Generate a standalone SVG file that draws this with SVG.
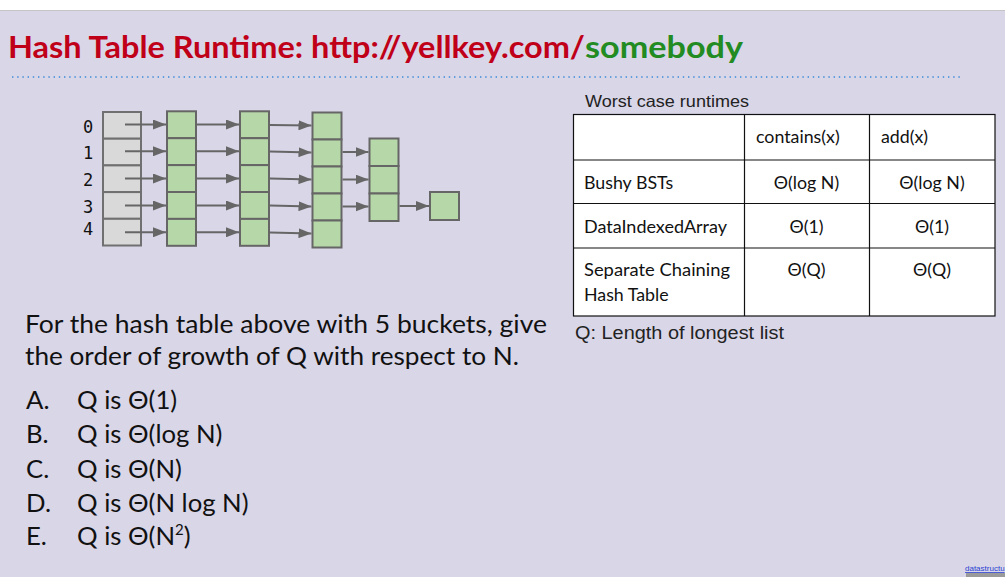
<svg xmlns="http://www.w3.org/2000/svg" width="1005" height="577" viewBox="0 0 1005 577">
<style>
.bk{fill:#d9d9d9;stroke:#707070;stroke-width:2}
.gn{fill:#b6d7a8;stroke:#666;stroke-width:2}
.ar{stroke:#666;stroke-width:2;fill:none;marker-end:url(#ah)}
.idx{font-family:"DejaVu Sans Mono","Liberation Mono",monospace;font-size:17px;fill:#111}
.body{font-family:Lato,"Open Sans","DejaVu Sans",sans-serif;fill:#111}
.cell{font-family:Lato,"Open Sans","DejaVu Sans",sans-serif;font-size:17.8px;fill:#111}
.ttl{font-family:Lato,"Open Sans",sans-serif;font-weight:bold;font-size:31px}
.arial{font-family:"Liberation Sans",Arial,sans-serif;fill:#222}
.tb{stroke:#111;stroke-width:1.2;fill:none}
</style>
<defs>
<marker id="ah" markerUnits="userSpaceOnUse" markerWidth="13" markerHeight="10" refX="13" refY="5" orient="auto">
<path d="M0,0 L13,5 L0,10 z" fill="#666"/>
</marker>
</defs>
<rect x="0" y="0" width="1005" height="577" fill="#d9d6e8"/>
<rect x="0" y="0" width="1005" height="10" fill="#ffffff"/>
<line x1="0" y1="10.5" x2="1005" y2="10.5" stroke="#c4c4c4" stroke-width="1"/>

<g id="title">
<text class="ttl" x="8" y="58" fill="#c00018" textLength="577" lengthAdjust="spacingAndGlyphs">Hash Table Runtime: http://yellkey.com/</text>
<text class="ttl" x="585" y="58" fill="#228b22" textLength="158" lengthAdjust="spacingAndGlyphs">somebody</text>
<line x1="12" y1="77" x2="962" y2="77" stroke="#3b8ad8" stroke-width="1.6" stroke-dasharray="1.4 3.8"/>
</g>

<g id="bucket-labels">
<text class="idx" x="83" y="132.5">0</text>
<text class="idx" x="83" y="159.3">1</text>
<text class="idx" x="83" y="186">2</text>
<text class="idx" x="83" y="212.7">3</text>
<text class="idx" x="83" y="235">4</text>
</g>

<g id="buckets">
<rect class="bk" x="103" y="112" width="38" height="26.7"/>
<rect class="bk" x="103" y="138.7" width="38" height="26.7"/>
<rect class="bk" x="103" y="165.4" width="38" height="26.7"/>
<rect class="bk" x="103" y="192.1" width="38" height="26.7"/>
<rect class="bk" x="103" y="218.8" width="38" height="26.7"/>
</g>

<g id="col1">
<rect class="gn" x="167" y="111.3" width="29" height="26.9"/>
<rect class="gn" x="167" y="138.2" width="29" height="26.9"/>
<rect class="gn" x="167" y="165.1" width="29" height="26.9"/>
<rect class="gn" x="167" y="192" width="29" height="26.9"/>
<rect class="gn" x="167" y="218.9" width="29" height="26.9"/>
</g>

<g id="col2">
<rect class="gn" x="240" y="111.3" width="29" height="26.9"/>
<rect class="gn" x="240" y="138.2" width="29" height="26.9"/>
<rect class="gn" x="240" y="165.1" width="29" height="26.9"/>
<rect class="gn" x="240" y="192" width="29" height="26.9"/>
<rect class="gn" x="240" y="218.9" width="29" height="26.9"/>
</g>

<g id="col3">
<rect class="gn" x="312.5" y="112.5" width="29" height="27"/>
<rect class="gn" x="312.5" y="139.5" width="29" height="27"/>
<rect class="gn" x="312.5" y="166.5" width="29" height="27"/>
<rect class="gn" x="312.5" y="193.5" width="29" height="27"/>
<rect class="gn" x="312.5" y="220.5" width="29" height="27"/>
</g>

<g id="col4">
<rect class="gn" x="369.5" y="138.5" width="29" height="27.5"/>
<rect class="gn" x="369.5" y="166" width="29" height="27.5"/>
<rect class="gn" x="369.5" y="193.5" width="29" height="27.5"/>
</g>

<g id="col5">
<rect class="gn" x="430" y="192" width="29" height="28"/>
</g>

<g id="connectors">
<line class="ar" x1="125" y1="124.5" x2="166" y2="124.5"/>
<line class="ar" x1="125" y1="151.3" x2="166" y2="151.3"/>
<line class="ar" x1="125" y1="178.5" x2="166" y2="178.5"/>
<line class="ar" x1="125" y1="205.5" x2="166" y2="205.5"/>
<line class="ar" x1="125" y1="232.3" x2="166" y2="232.3"/>
<line class="ar" x1="197" y1="124.5" x2="239" y2="124.5"/>
<line class="ar" x1="197" y1="151.3" x2="239" y2="151.3"/>
<line class="ar" x1="197" y1="178.5" x2="239" y2="178.5"/>
<line class="ar" x1="197" y1="205.5" x2="239" y2="205.5"/>
<line class="ar" x1="197" y1="232.3" x2="239" y2="232.3"/>
<line class="ar" x1="270" y1="125" x2="311.5" y2="125.5"/>
<line class="ar" x1="270" y1="151.5" x2="311.5" y2="152.5"/>
<line class="ar" x1="270" y1="178.5" x2="311.5" y2="179.5"/>
<line class="ar" x1="270" y1="205.5" x2="311.5" y2="206.5"/>
<line class="ar" x1="270" y1="232.5" x2="311.5" y2="233.5"/>
<line class="ar" x1="342.5" y1="152" x2="368.5" y2="152"/>
<line class="ar" x1="342.5" y1="179.5" x2="368.5" y2="179.5"/>
<line class="ar" x1="342.5" y1="206.5" x2="368.5" y2="206.5"/>
<line class="ar" x1="399.5" y1="206" x2="429" y2="206"/>
</g>

<g id="runtime-table">
<text class="arial" x="585" y="107" font-size="16.5" textLength="164" lengthAdjust="spacingAndGlyphs">Worst case runtimes</text>
<rect x="573.5" y="114.5" width="421.5" height="201.5" fill="#ffffff"/>
<rect class="tb" x="573.5" y="114.5" width="421.5" height="201.5"/>
<line class="tb" x1="744.5" y1="114.5" x2="744.5" y2="316"/>
<line class="tb" x1="869.5" y1="114.5" x2="869.5" y2="316"/>
<line class="tb" x1="573.5" y1="160" x2="995" y2="160"/>
<line class="tb" x1="573.5" y1="203.5" x2="995" y2="203.5"/>
<line class="tb" x1="573.5" y1="248" x2="995" y2="248"/>
<text class="cell" x="756" y="143">contains(x)</text>
<text class="cell" x="881" y="143">add(x)</text>
<text class="cell" x="584" y="188.5">Bushy BSTs</text>
<text class="cell" x="806.5" y="188.5" text-anchor="middle">Θ(log N)</text>
<text class="cell" x="932" y="188.5" text-anchor="middle">Θ(log N)</text>
<text class="cell" x="584" y="233" textLength="143" lengthAdjust="spacingAndGlyphs">DataIndexedArray</text>
<text class="cell" x="806.5" y="233" text-anchor="middle">Θ(1)</text>
<text class="cell" x="932" y="233" text-anchor="middle">Θ(1)</text>
<text class="cell" x="584" y="276" textLength="146" lengthAdjust="spacingAndGlyphs">Separate Chaining</text>
<text class="cell" x="584" y="301">Hash Table</text>
<text class="cell" x="806.5" y="276" text-anchor="middle">Θ(Q)</text>
<text class="cell" x="932" y="276" text-anchor="middle">Θ(Q)</text>
<text class="arial" x="575" y="338.5" font-size="17.5" textLength="209" lengthAdjust="spacingAndGlyphs">Q: Length of longest list</text>
</g>

<g id="question">
<text class="body" x="25" y="333" font-size="25.5" textLength="522" lengthAdjust="spacingAndGlyphs">For the hash table above with 5 buckets, give</text>
<text class="body" x="25" y="365" font-size="25.5" textLength="494" lengthAdjust="spacingAndGlyphs">the order of growth of Q with respect to N.</text>
<text class="body" x="26" y="409" font-size="25.7">A.</text>
<text class="body" x="77" y="409" font-size="25.7">Q is Θ(1)</text>
<text class="body" x="26" y="443" font-size="25.7">B.</text>
<text class="body" x="77" y="443" font-size="25.7">Q is Θ(log N)</text>
<text class="body" x="26" y="478" font-size="25.7">C.</text>
<text class="body" x="77" y="478" font-size="25.7">Q is Θ(N)</text>
<text class="body" x="26" y="512" font-size="25.7">D.</text>
<text class="body" x="77" y="512" font-size="25.7">Q is Θ(N log N)</text>
<text class="body" x="26" y="545" font-size="25.7">E.</text>
<text class="body" x="77" y="545" font-size="25.7">Q is Θ(N<tspan font-size="15" dy="-10">2</tspan><tspan dy="10">)</tspan></text>
</g>

<g id="footer">
<text x="965" y="571" font-family="'Liberation Sans',Arial,sans-serif" font-size="8" fill="#2a3fd0" text-decoration="underline">datastructu</text>
<rect x="966" y="573" width="39" height="4" fill="#9a9a9a"/>
</g>
</svg>
